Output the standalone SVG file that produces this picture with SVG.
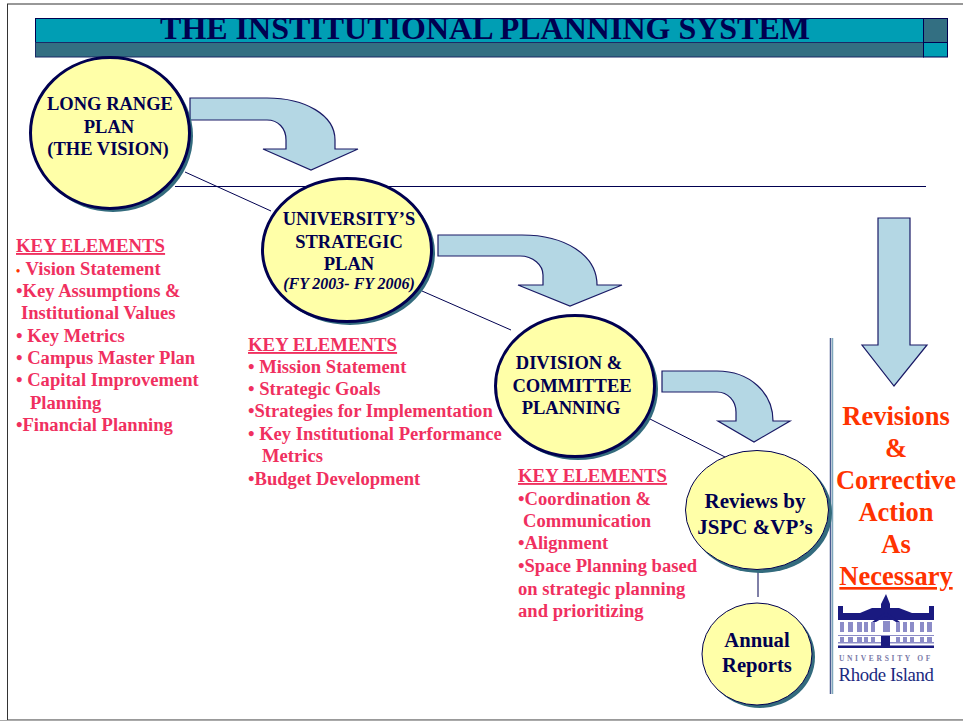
<svg xmlns="http://www.w3.org/2000/svg" width="963" height="721" viewBox="0 0 963 721">
<style>
text{font-family:"Liberation Serif","Times New Roman",serif;font-weight:bold}
.n{fill:#000050;font-size:18.5px;text-anchor:middle}
.k{fill:#f0305f;font-size:18.6px}
.h{fill:#f0305f;font-size:18.8px;text-decoration:underline}
.r{fill:#ff3300;font-size:26.500px;text-anchor:middle}
.c{fill:#ffffa8;stroke:#000050;stroke-width:3}
.s{fill:#336b7d}
.a{fill:#b4d7e4;stroke:#1a1a66;stroke-width:1.2}
.l{fill:none;stroke:#000050;stroke-width:1}
.w{fill:#8c8cc8}
</style>
<rect x="7.500" y="4" width="970" height="716" fill="#fff" stroke="#333" stroke-width="1"/>
<g id="title-bar">
<rect x="35.500" y="18.500" width="888" height="24" fill="#009eb4" stroke="#000050"/>
<rect x="35.500" y="42.500" width="888" height="14.500" fill="#336f82" stroke="#1a2a66"/>
<rect x="923.500" y="18.500" width="24" height="24" fill="#336f82" stroke="#000050"/>
<rect x="923.500" y="42.500" width="24" height="14.500" fill="#009eb4" stroke="#000050"/>
<text x="485" y="38.500" text-anchor="middle" fill="#000050" style="font-size:32px">THE INSTITUTIONAL PLANNING SYSTEM</text>
</g>
<g id="connectors">
<path class="l" d="M175 186.500H926"/>
<path class="l" d="M185 172L271 211"/>
<path class="l" d="M422 291L511 330"/>
<path class="l" d="M650 419L727 458"/>
<path class="l" d="M758 562V597"/>
<path class="a" d="M190 98H267C305 98 335 115 335 140V149H358L311 170L263 149H286V140C286 128 278 120 267 120H190Z"/>
<path class="a" d="M438 235H522C565 235 597 255 597 285H622L570 306L518 285H543V275C543 265 533 256 520 256H438Z"/>
<path class="a" d="M662 371H717C750 371 773 393 773 421H790L754 442L718 421H736V412C736 401 728 392 717 392H662Z"/>
<path class="a" d="M878 218H910V345H927L894 386L862 345H878Z"/>
<path d="M830.500 338V694" stroke="#4a5a90" stroke-width="1.500"/>
<path d="M832.500 338V694" stroke="#7fa8bc" stroke-width="1.500"/>
</g>
<g id="long-range-plan">
<ellipse class="s" cx="113" cy="136" rx="80" ry="76"/>
<ellipse class="c" cx="110" cy="133" rx="79.500" ry="75.500"/>
<text class="n" x="110" y="110">LONG RANGE</text>
<text class="n" x="109" y="133">PLAN</text>
<text class="n" x="108" y="155">(THE VISION)</text>
</g>
<g id="strategic-plan">
<ellipse class="s" cx="350" cy="253" rx="85" ry="72"/>
<ellipse class="c" cx="347" cy="250" rx="84.500" ry="71.500"/>
<text class="n" x="349" y="225">UNIVERSITY’S</text>
<text class="n" x="349" y="248">STRATEGIC</text>
<text class="n" x="349" y="270">PLAN</text>
<text class="n" x="349" y="289" style="font-size:16px;font-style:italic">(FY 2003- FY 2006)</text>
</g>
<g id="division-planning">
<ellipse class="s" cx="578" cy="389" rx="80" ry="71"/>
<ellipse class="c" cx="575" cy="386" rx="79.500" ry="70.500"/>
<text class="n" x="569" y="369">DIVISION &amp;</text>
<text class="n" x="572" y="392">COMMITTEE</text>
<text class="n" x="571" y="414">PLANNING</text>
</g>
<g id="reviews">
<ellipse class="s" cx="760" cy="513" rx="72" ry="60"/>
<ellipse class="c" cx="757" cy="510" rx="71.500" ry="59.500" style="stroke-width:1"/>
<text class="n" x="755" y="508" style="font-size:21px">Reviews by</text>
<text class="n" x="755" y="534" style="font-size:21px">JSPC &amp;VP’s</text>
</g>
<g id="annual-reports">
<ellipse class="s" cx="760" cy="657" rx="55" ry="51"/>
<ellipse class="c" cx="757" cy="654" rx="55" ry="51" style="stroke-width:1"/>
<text class="n" x="757" y="647" style="font-size:20.600px">Annual</text>
<text class="n" x="757" y="672" style="font-size:20.600px">Reports</text>
</g>
<g id="key-elements-1">
<text class="h" x="16" y="252">KEY ELEMENTS</text>
<text class="k" x="16" y="275"><tspan fill="#ff3300" font-size="12">•</tspan> <tspan x="25.500">Vision Statement</tspan></text>
<text class="k" x="16" y="297">•Key Assumptions &amp;</text>
<text class="k" x="21" y="319">Institutional Values</text>
<text class="k" x="16" y="342">• Key Metrics</text>
<text class="k" x="16" y="364">• Campus Master Plan</text>
<text class="k" x="16" y="386">• Capital Improvement</text>
<text class="k" x="30" y="409">Planning</text>
<text class="k" x="16" y="431">•Financial Planning</text>
</g>
<g id="key-elements-2">
<text class="h" x="248" y="351">KEY ELEMENTS</text>
<text class="k" x="248" y="373">• Mission Statement</text>
<text class="k" x="248" y="395">• Strategic Goals</text>
<text class="k" x="248" y="417">•Strategies for Implementation</text>
<text class="k" x="248" y="440">• Key Institutional Performance</text>
<text class="k" x="262" y="462">Metrics</text>
<text class="k" x="248" y="485">•Budget Development</text>
</g>
<g id="key-elements-3">
<text class="h" x="518" y="482">KEY ELEMENTS</text>
<text class="k" x="518" y="505">•Coordination &amp;</text>
<text class="k" x="523" y="527">Communication</text>
<text class="k" x="518" y="549">•Alignment</text>
<text class="k" x="518" y="572">•Space Planning based</text>
<text class="k" x="518" y="595">on strategic planning</text>
<text class="k" x="518" y="617">and prioritizing</text>
</g>
<g id="revisions">
<text class="r" x="896" y="425">Revisions</text>
<text class="r" x="896" y="457">&amp;</text>
<text class="r" x="896" y="489">Corrective</text>
<text class="r" x="896" y="521">Action</text>
<text class="r" x="896" y="553">As</text>
<text class="r" x="896" y="585" text-decoration="underline">Necessary</text>
</g>
<g id="logo">
<path fill="#1a1a80" d="M838 606H843V613L860 613L872 608H881V604L886 594L890 604V608H899L912 613L929 613V606H934V620H838Z"/>
<path fill="#1a1a80" d="M872 622L886 612L900 622H896L886 616L876 622Z"/>
<rect x="838" y="642" width="96" height="1.500" class="w"/>
<rect x="838" y="635" width="96" height="1" class="w"/>
<rect x="838" y="645.500" width="96" height="2.500" fill="#1a1a80"/>
<path class="w" d="M840 622h4v10h-4zM848 622h5v10h-5zM857 622h5v10h-5zM864 622h4v10h-4zM871 622h4v10h-4zM883 621h7v11h-7zM896 622h4v10h-4zM903 622h4v10h-4zM910 622h4v10h-4zM920 622h4v10h-4zM927 622h5v10h-5z"/>
<path class="w" d="M840 637h4v5h-4zM848 637h5v5h-5zM857 637h5v5h-5zM864 637h4v5h-4zM871 637h4v5h-4zM896 637h4v5h-4zM903 637h4v5h-4zM910 637h4v5h-4zM920 637h4v5h-4zM927 637h5v5h-5z"/>
<rect x="881" y="636" width="9" height="10" fill="#1a1a80"/>
<text x="886" y="661" text-anchor="middle" style="font-family:'Liberation Serif',serif;font-size:7.500px;letter-spacing:2.700px;fill:#7a7aa8">UNIVERSITY OF</text>
<text x="886" y="681" text-anchor="middle" style="font-size:18.800px;font-weight:normal;fill:#1a2a80;letter-spacing:-.4px">Rhode Island</text>
</g>
<path d="M0 720.500H963" stroke="#aaa"/>
</svg>
